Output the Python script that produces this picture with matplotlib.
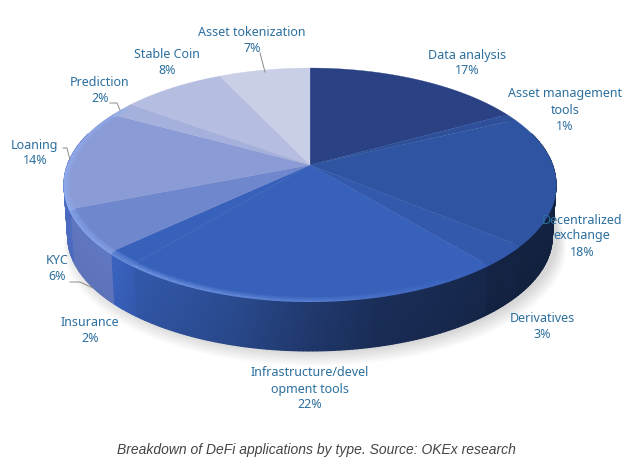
import numpy as np
import matplotlib
matplotlib.use("Agg")
import matplotlib.pyplot as plt
from matplotlib.colors import to_rgb

categories = ["Data analysis", "Asset management\ntools", "Decentralized\nexchange", "Derivatives",
              "Infrastructure/devel\nopment tools", "Insurance", "KYC", "Loaning",
              "Prediction", "Stable Coin", "Asset tokenization"]
shares = [17, 1, 18, 3, 22, 2, 6, 14, 2, 8, 7]

top_colors = ["#2a4284", "#2e509b", "#2f55a2", "#3359ac", "#3761bb", "#3761bb",
              "#6f87cc", "#8b9bd6", "#a6b0dc", "#b5bde0", "#c9cfe6"]
side_colors = ["#2a4284", "#2d4e98", "#2f559f", "#3359ab", "#3761bb", "#3a64c2",
               "#6279c4", "#5070c8", "#a6b0dc", "#b5bde0", "#c9cfe6"]
label_pos = [(467, 63), (565, 110), (582, 236), (542, 326), (310, 389),
             (90, 330), (57, 269), (35, 153), (100, 90), (167, 63), (252, 41)]

CX, CY = 310, 165
A, B, K = 242.7, 112.9, 0.164
DEPTH = 53


def project(theta, scale=1.0, dy=0.0):
    # circle seen in perspective, theta runs clockwise from the top
    u, v = np.sin(theta), np.cos(theta)
    w = 1 + K * v
    return CX + scale * A * u / w, CY - scale * B * v / w + dy


def wall_light(x):
    # front wall gets darker towards the right
    xs = [64, 115, 140, 230, 310, 380, 500, 556]
    fs = [1.0, 1.0, 0.92, 0.78, 0.60, 0.48, 0.40, 0.42]
    return np.interp(x, xs, fs)


def main():
    fig = plt.figure(figsize=(6.35, 4.69), dpi=100)
    ax = fig.add_axes([0, 0, 1, 1])
    ax.set_xlim(0, 635)
    ax.set_ylim(469, 0)
    ax.axis("off")

    # soft shadow below the pie
    t = np.linspace(0, 2 * np.pi, 200)
    for i in range(10):
        x, y = project(t, 0.985 + 0.004 * i, DEPTH + 1 + 1.0 * i)
        ax.fill(x + 5, y, color="#555555", alpha=0.022, lw=0, zorder=1)

    edges = np.cumsum([0] + shares) / sum(shares) * 2 * np.pi

    # side wall, only the part facing us
    for i, share in enumerate(shares):
        ts = np.linspace(edges[i], edges[i + 1], max(4, share * 4))
        ts = ts[np.cos(ts) < 0.3]
        if len(ts) < 2:
            continue
        xt, yt = project(ts)
        xb, yb = project(ts, 0.985, DEPTH)
        base = np.array(to_rgb(side_colors[i]))
        light = wall_light(xt)[:, None]
        upper = np.clip(base * light, 0, 1)
        lower = np.clip(base * light * 0.94, 0, 1)
        ax.pcolormesh(np.vstack([xt, xb]), np.vstack([yt, yb]), np.stack([upper, lower]),
                      shading="gouraud", zorder=2)

    # top face
    for i in range(len(shares)):
        ts = np.linspace(edges[i], edges[i + 1], 60)
        x, y = project(ts)
        ax.fill(np.r_[CX, x], np.r_[CY, y], color=top_colors[i], lw=0.2, zorder=3)

    # lit bevel along the front edge, fading to the right
    glow = np.array(to_rgb("#8fb0f5"))
    for i in range(len(shares)):
        ts = np.linspace(edges[i], edges[i + 1], 40)
        ts = ts[np.cos(ts) < 0.55]
        if len(ts) < 2:
            continue
        xo, yo = project(ts)
        xi, yi = project(ts, 0.975)
        fade = np.interp(xo, [64, 140, 300, 480], [0.85, 0.7, 0.4, 0.0])[:, None]
        base = np.array(to_rgb(top_colors[i]))
        inner = np.tile(base, (len(ts), 1))
        outer = base * (1 - fade) + glow * fade
        ax.pcolormesh(np.vstack([xi, xo]), np.vstack([yi, yo + 1.5]), np.stack([inner, outer]),
                      shading="gouraud", zorder=4)

    # leader lines
    leaders = [([260, 265], [53, 72]), ([110, 117, 120], [103, 103, 110]),
               ([63, 67, 70], [148, 148, 160]), ([70, 80, 93], [282, 282, 288])]
    for lx, ly in leaders:
        ax.plot(lx, ly, color="#8a8a8a", lw=0.7, zorder=5)

    for name, share, (x, y) in zip(categories, shares, label_pos):
        ax.text(x, y, f"{name}\n{share}%", ha="center", va="center", fontsize=9,
                family="Noto Sans", color="#2b6f9e", linespacing=1.3, zorder=6)

    ax.text(316, 450, "Breakdown of DeFi applications by type. Source: OKEx research",
            ha="center", va="center", fontsize=10, style="italic",
            family="Liberation Sans", color="#444444")

    fig.savefig("out.png", dpi=100)


if __name__ == "__main__":
    main()
